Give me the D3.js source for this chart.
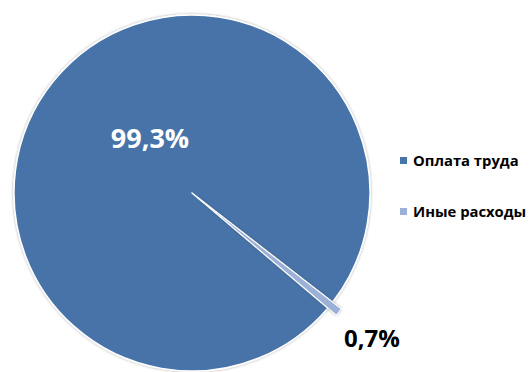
<!DOCTYPE html>
<html>

<head>
  <meta charset="utf-8" />
  <script src="https://cdn.jsdelivr.net/npm/d3@7"></script>
  <style>
    body {
      margin: 0;
      background: #fff;
    }

    svg text {
      font-family: "Open Sans", "DejaVu Sans", sans-serif;
      font-weight: bold;
    }
  </style>
</head>

<body>
</body>
<script>
  "use strict";

  var categories = ["Оплата труда", "Иные расходы"];
  var values = [99.3, 0.7];
  var labels = ["99,3%", "0,7%"];
  var colors = ["#4673a8", "#9cb1d8"];

  var width = 531,
    height = 372,
    cx = 192,
    cy = 193,
    radius = 178;

  var svg = d3.select("body")
    .append("svg")
    .attr("width", width)
    .attr("height", height);

  var defs = svg.append("defs");
  var shadow = defs.append("filter").attr("id", "shade")
    .attr("x", "-10%").attr("y", "-10%").attr("width", "120%").attr("height", "120%");
  shadow.append("feGaussianBlur").attr("in", "SourceAlpha").attr("stdDeviation", 1.5);
  shadow.append("feComponentTransfer").append("feFuncA").attr("type", "linear").attr("slope", 0.35);
  var merge = shadow.append("feMerge");
  merge.append("feMergeNode");
  merge.append("feMergeNode").attr("in", "SourceGraphic");

  // first slice starts so the small one sits at the lower right
  var start = 130.3 * Math.PI / 180;
  var pie = d3.pie().sort(null).startAngle(start).endAngle(start + 2 * Math.PI);
  var arcs = pie(values);

  var arc = d3.arc().innerRadius(0).outerRadius(radius);

  var g = svg.append("g").attr("transform", "translate(" + cx + "," + cy + ")");

  // the small slice is pulled out of the pie
  var explode = [0, 11];

  g.selectAll("path.slice")
    .data(arcs)
    .enter()
    .append("path")
    .attr("class", "slice")
    .attr("d", arc)
    .attr("transform", function(d, i) {
      var a = (d.startAngle + d.endAngle) / 2;
      return "translate(" + (Math.sin(a) * explode[i]) + "," + (-Math.cos(a) * explode[i]) + ")";
    })
    .attr("fill", function(d, i) {
      return colors[i];
    })
    .attr("stroke", "#fff")
    .attr("stroke-width", function(d, i) {
      return i === 0 ? 1.5 : 1;
    })
    .attr("stroke-linejoin", "round")
    .attr("filter", "url(#shade)");

  // data labels
  var labelPos = [
    [-42, -52],
    [180, 148]
  ];
  g.selectAll("text.lbl")
    .data(arcs)
    .enter()
    .append("text")
    .attr("class", "lbl")
    .attr("x", function(d, i) {
      return labelPos[i][0];
    })
    .attr("y", function(d, i) {
      return labelPos[i][1];
    })
    .attr("text-anchor", "middle")
    .attr("dominant-baseline", "middle")
    .attr("font-size", function(d, i) {
      return i === 0 ? 27 : 24;
    })
    .attr("fill", function(d, i) {
      return i === 0 ? "#fff" : "#000";
    })
    .text(function(d, i) {
      return labels[i];
    });

  // legend
  var legend = svg.append("g").attr("transform", "translate(400,0)");
  var item = legend.selectAll("g.item")
    .data(categories)
    .enter()
    .append("g")
    .attr("class", "item")
    .attr("transform", function(d, i) {
      return "translate(0," + (157 + i * 51) + ")";
    });

  item.append("rect")
    .attr("width", 7)
    .attr("height", 7)
    .attr("fill", function(d, i) {
      return colors[i];
    });

  item.append("text")
    .attr("x", 13)
    .attr("y", 8.5)
    .attr("font-size", 14.8)
    .attr("fill", "#000")
    .text(function(d) {
      return d;
    });
</script>

</html>
